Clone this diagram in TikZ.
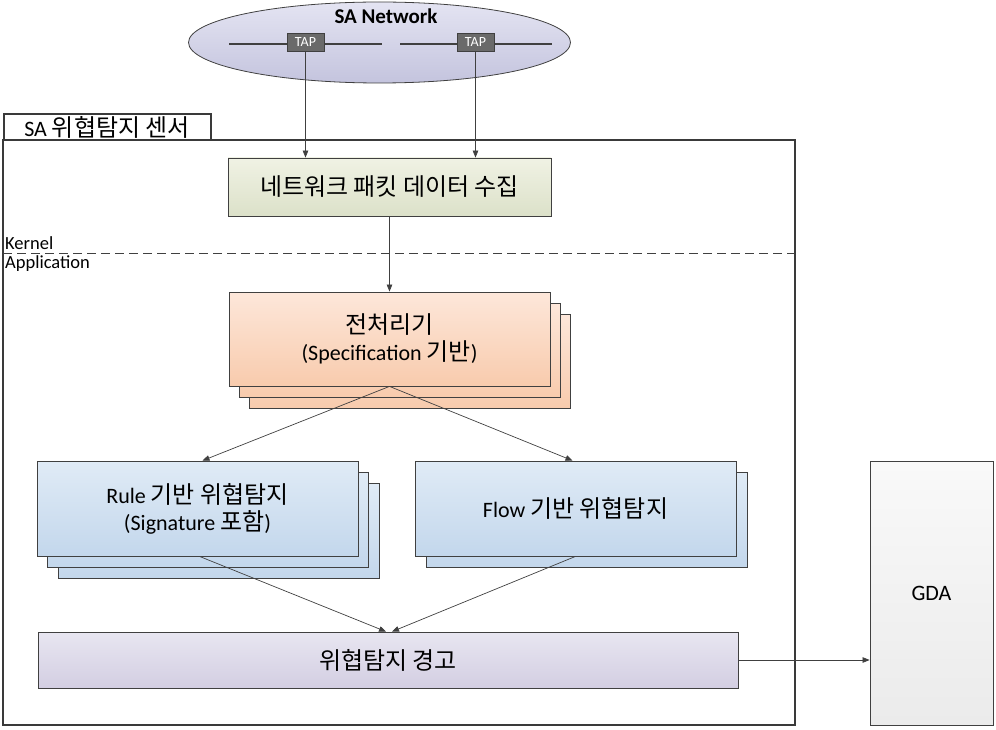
\documentclass[tikz,border=0pt]{standalone}
\usepackage{fontspec}
\setmainfont{Carlito}
\newfontfamily\kr[Scale=1.09]{Noto Sans CJK KR}
\usetikzlibrary{arrows.meta,shapes.geometric}
\definecolor{lineC}{HTML}{404040}
\definecolor{frameC}{HTML}{3A3A3A}
\definecolor{ellTop}{HTML}{E4E4F2}
\definecolor{ellBot}{HTML}{C4C4DE}
\definecolor{tapC}{HTML}{6A6A6A}
\definecolor{collTop}{HTML}{F0F2E4}
\definecolor{collBot}{HTML}{DCE1C9}
\definecolor{preTop}{HTML}{FDE7DA}
\definecolor{preBot}{HTML}{F8CBAD}
\definecolor{blueTop}{HTML}{E0EBF6}
\definecolor{blueBot}{HTML}{C3D7EC}
\definecolor{alTop}{HTML}{E8E6F1}
\definecolor{alBot}{HTML}{D3CEE2}
\definecolor{gdaTop}{HTML}{F9F9F9}
\definecolor{gdaBot}{HTML}{EBEBEB}
\tikzset{
  blk/.style={draw=lineC, line width=0.8pt, inner sep=0pt, align=center, font=\fontsize{22}{27}\selectfont},
  collbox/.style={blk, top color=collTop, bottom color=collBot, minimum width=323pt, minimum height=58pt},
  prebox/.style={blk, top color=preTop, bottom color=preBot, minimum width=321pt, minimum height=94pt},
  bluebox/.style={blk, top color=blueTop, bottom color=blueBot, minimum width=321pt, minimum height=95pt},
  arr/.style={draw=lineC, line width=0.7pt, -{Triangle[length=7pt,width=5.5pt]}},
  tapbox/.style={draw=lineC, fill=tapC, text=white, minimum width=37pt, minimum height=18pt, inner sep=0pt,
      font=\fontsize{14}{16}\selectfont},
}
\begin{document}
\begin{tikzpicture}[x=1pt,y=-1pt]
\useasboundingbox (0,0) rectangle (996,730);

% network ellipse
\node[ellipse, draw=lineC, line width=0.8pt, top color=ellTop, bottom color=ellBot,
      minimum width=382pt, minimum height=81pt, inner sep=0pt] (net) at (379.5,42.5) {};
\node[font=\fontsize{21}{24}\selectfont\bfseries] (nettitle) at (386,16) {SA Network};
\coordinate (l1a) at (229,44); \coordinate (l1b) at (382,44);
\coordinate (l2a) at (400,44); \coordinate (l2b) at (552,44);
\draw[lineC, line width=1.3pt] (l1a) -- (l1b);
\draw[lineC, line width=1.3pt] (l2a) -- (l2b);
\node[tapbox] (tap1) at (305.5,42) {TAP};
\node[tapbox] (tap2) at (475.5,42) {TAP};

% sensor frame
\node[draw=frameC, line width=2.6pt, minimum width=792pt, minimum height=585pt, inner sep=0pt] (frame) at (399,432.5) {};
\node[draw=frameC, line width=2pt, fill=white, minimum width=207pt, minimum height=26pt, inner sep=0pt,
      font=\fontsize{22}{24}\selectfont] (tab) at (107,127) {SA {\kr 위협탐지 센서}};

% collector
\node[collbox] (coll) at (389.5,187) {\kr 네트워크 패킷 데이터 수집};

% kernel/application
\coordinate (dl) at (3,253); \coordinate (dr) at (795,253);
\draw[lineC, line width=0.7pt, dash pattern=on 9pt off 5pt] (dl) -- (dr);
\node[anchor=base west, inner sep=0pt, font=\fontsize{18.5}{20}\selectfont] (kern) at (5,250) {Kernel};
\node[anchor=base west, inner sep=0pt, font=\fontsize{18.5}{20}\selectfont] (appl) at (5,269) {Application};

% preprocessor stack
\node[prebox] (pre3) at (409.5,361) {};
\node[prebox] (pre2) at (399.5,350) {};
\node[prebox] (pre) at (389.5,339) {{\kr 전처리기}\\(Specification {\kr 기반})};

% rule stack
\node[bluebox] (rule3) at (219,531) {};
\node[bluebox] (rule2) at (208,520) {};
\node[bluebox] (rule) at (197.5,508.5) {Rule {\kr 기반 위협탐지}\\(Signature {\kr 포함})};

% flow stack
\node[bluebox] (flow2) at (586.5,519.5) {};
\node[bluebox] (flow) at (575.5,508.5) {Flow {\kr 기반 위협탐지}};

% alert
\node[blk, top color=alTop, bottom color=alBot, minimum width=700pt, minimum height=56pt] (alert) at (388,660) {\kr 위협탐지 경고};

% GDA
\node[blk, top color=gdaTop, bottom color=gdaBot, minimum width=123pt, minimum height=264pt] (gda) at (931.5,593) {GDA};

% connectors
\draw[arr] (tap1.south) -- (tap1.south |- coll.north);
\draw[arr] (tap2.south) -- (tap2.south |- coll.north);
\draw[arr] (coll.south) -- (pre.north);
\coordinate (rtop) at ([xshift=5pt]rule.north);
\coordinate (ftop) at ([xshift=-3pt]flow.north);
\draw[arr] (pre.south) -- (rtop);
\draw[arr] (pre.south) -- (ftop);
\coordinate (rbot) at ([xshift=2pt]rule.south);
\coordinate (a1) at ([xshift=-2pt]alert.north);
\coordinate (a2) at ([xshift=4pt]alert.north);
\draw[arr] (rbot) -- (a1);
\draw[arr] (flow.south) -- (a2);
\draw[arr] (alert.east) -- (alert.east -| gda.west);
\end{tikzpicture}
\end{document}
